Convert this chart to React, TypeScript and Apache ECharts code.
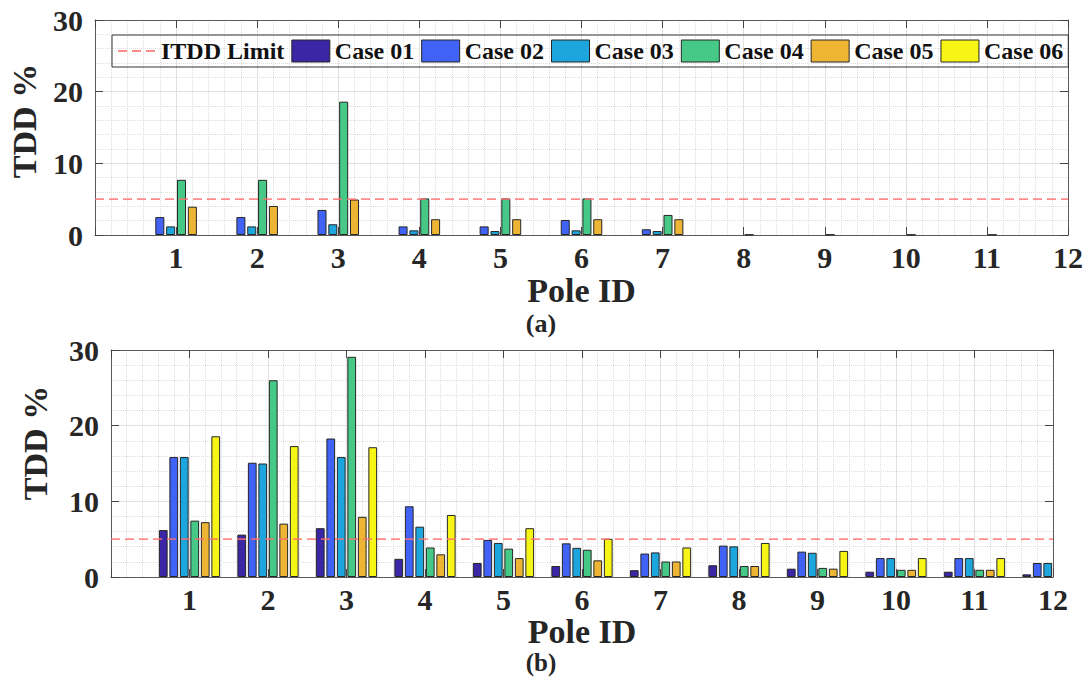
import React, { useEffect, useRef } from 'react';
import * as echarts from 'echarts';

const poles = [1, 2, 3, 4, 5, 6, 7, 8, 9, 10, 11, 12];
const caseNames = ['Case 01', 'Case 02', 'Case 03', 'Case 04', 'Case 05', 'Case 06'];
const caseColors = ['#3b26a6', '#4063f5', '#1ca6dd', '#46c886', '#eeb535', '#f7f516'];
const limitName = 'ITDD Limit';
const itddLimit = 5;
const xTicks = [0, 12];
const yRange = [0, 30];

// (a) — bars of cases 04-06 at pole 12 fall outside the plot and are not visible
const aCase01 = [0, 0, 0, 0, 0, 0, 0, 0, 0, 0, 0, 0];
const aCase02 = [2.5, 2.5, 3.5, 1.2, 1.2, 2.1, 0.8, 0, 0, 0, 0, 0];
const aCase03 = [1.2, 1.2, 1.5, 0.65, 0.55, 0.65, 0.55, 0, 0, 0, 0, 0];
const aCase04 = [7.7, 7.7, 18.6, 5.1, 5.1, 5.1, 2.8, 0.05, 0.05, 0.05, 0.05, null];
const aCase05 = [3.95, 4.05, 4.95, 2.2, 2.2, 2.2, 2.2, 0, 0, 0, 0, null];
const aCase06 = [0, 0, 0, 0, 0, 0, 0, 0, 0, 0, 0, null];

// (b)
const bCase01 = [6.2, 5.6, 6.45, 2.4, 1.85, 1.45, 0.9, 1.55, 1.1, 0.7, 0.7, 0.35];
const bCase02 = [15.85, 15.1, 18.3, 9.35, 4.9, 4.45, 3.1, 4.15, 3.35, 2.5, 2.5, 1.85];
const bCase03 = [15.85, 15.0, 15.85, 6.65, 4.5, 3.85, 3.25, 4.05, 3.2, 2.5, 2.5, 1.85];
const bCase04 = [7.45, 26.0, 29.1, 3.9, 3.75, 3.6, 2.05, 1.45, 1.2, 0.95, 0.95, null];
const bCase05 = [7.25, 7.05, 7.95, 3.0, 2.5, 2.2, 2.05, 1.45, 1.1, 0.95, 0.95, null];
const bCase06 = [18.6, 17.3, 17.15, 8.2, 6.45, 5.05, 3.9, 4.5, 3.45, 2.5, 2.5, null];

const panelA = [aCase01, aCase02, aCase03, aCase04, aCase05, aCase06];
const panelB = [bCase01, bCase02, bCase03, bCase04, bCase05, bCase06];

const FONT = 'Liberation Serif';
const TEXT = '#262626';
const LIMIT_COLOR = 'rgba(255,110,110,0.8)';

function axesFor(g: number, nameGap: number) {
  const xMain = {
    type: 'value', gridIndex: g, min: xTicks[0], max: xTicks[1], interval: 1, position: 'bottom',
    axisLine: { show: true, onZero: false, lineStyle: { color: '#5a5a5a', width: 1 } },
    axisTick: { show: true, inside: true, length: 8, lineStyle: { color: '#444' } },
    axisLabel: {
      show: true, formatter: (v: number) => (v === 0 ? '' : String(v)),
      fontFamily: FONT, fontWeight: 'bold', fontSize: 30, color: TEXT, margin: 7,
    },
    splitLine: { show: true, lineStyle: { color: '#e0e0e0', width: 1 } },
    minorTick: { show: false, splitNumber: 5 },
    minorSplitLine: { show: true, lineStyle: { color: '#dedede', type: 'dotted', width: 1 } },
    name: 'Pole ID', nameLocation: 'middle', nameGap, nameMoveOverlap: false,
    nameTextStyle: { fontFamily: FONT, fontWeight: 'bold', fontSize: 34, color: TEXT, verticalAlign: 'top' },
  };
  const xTop = {
    type: 'value', gridIndex: g, min: xTicks[0], max: xTicks[1], interval: 1, position: 'top',
    axisLine: { show: true, onZero: false, lineStyle: { color: '#5a5a5a', width: 1 } },
    axisTick: { show: true, inside: true, length: 8, lineStyle: { color: '#444' } },
    axisLabel: { show: false }, splitLine: { show: false },
  };
  const yMain = {
    type: 'value', gridIndex: g, min: yRange[0], max: yRange[1], interval: 10, position: 'left',
    axisLine: { show: true, onZero: false, lineStyle: { color: '#5a5a5a', width: 1 } },
    axisTick: { show: true, inside: true, length: 8, lineStyle: { color: '#444' } },
    axisLabel: { show: true, fontFamily: FONT, fontWeight: 'bold', fontSize: 30, color: TEXT, margin: 12 },
    splitLine: { show: true, lineStyle: { color: '#e0e0e0', width: 1 } },
    minorTick: { show: false, splitNumber: 5 },
    minorSplitLine: { show: true, lineStyle: { color: '#dedede', type: 'dotted', width: 1 } },
  };
  const yRight = {
    type: 'value', gridIndex: g, min: yRange[0], max: yRange[1], interval: 10, position: 'right',
    axisLine: { show: true, onZero: false, lineStyle: { color: '#5a5a5a', width: 1 } },
    axisTick: { show: true, inside: true, length: 8, lineStyle: { color: '#444' } },
    axisLabel: { show: false }, splitLine: { show: false },
  };
  return { x: [xMain, xTop], y: [yMain, yRight] };
}

function seriesFor(g: number, panel: (number | null)[][]) {
  const xi = g * 2;
  const yi = g * 2;
  const out: any[] = [];
  panel.forEach((vals, k) => {
    out.push({
      type: 'bar', name: caseNames[k], xAxisIndex: xi, yAxisIndex: yi,
      data: poles.map((p, i) =>
        vals[i] === 0 ? { value: [p, 0], itemStyle: { borderWidth: 0 } } : [p, vals[i]]
      ),
      barGap: '20%', barCategoryGap: '22%',
      itemStyle: { color: caseColors[k], borderColor: '#262626', borderWidth: 1 },
      z: 2,
    });
  });
  out.push({
    type: 'line', name: limitName, xAxisIndex: xi, yAxisIndex: yi,
    data: [[xTicks[0], itddLimit], [xTicks[1], itddLimit]],
    symbol: 'none', silent: true, z: 5,
    lineStyle: { color: LIMIT_COLOR, width: 1.8, type: [9, 5] },
    itemStyle: { color: LIMIT_COLOR },
  });
  return out;
}

export default function App() {
  const ref = useRef<HTMLDivElement>(null);
  useEffect(() => {
    if (!ref.current) return;
    const chart = echarts.init(ref.current, undefined, { renderer: 'svg' });
    const a0 = axesFor(0, 38);
    const a1 = axesFor(1, 37);
    const option: any = {
      animation: false,
      backgroundColor: '#ffffff',
      grid: [
        { left: 95, top: 20, width: 973, height: 215 },
        { left: 111, top: 350, width: 942, height: 227 },
      ],
      xAxis: [...a0.x, ...a1.x],
      yAxis: [...a0.y, ...a1.y],
      legend: {
        left: 112, top: 35, orient: 'horizontal',
        itemWidth: 38, itemHeight: 22, itemGap: 7, padding: [4, 5],
        borderColor: '#333', borderWidth: 1, backgroundColor: 'transparent',
        textStyle: { fontFamily: FONT, fontWeight: 'bold', fontSize: 24, color: '#111' },
        data: [
          { name: limitName, itemStyle: { color: 'rgba(0,0,0,0)', borderColor: 'rgba(0,0,0,0)', borderWidth: 0 } },
          ...caseNames.map((n) => ({ name: n, icon: 'rect', itemStyle: { borderColor: '#262626', borderWidth: 1 } })),
        ],
        selectedMode: false,
      },
      graphic: [
        { type: 'text', x: 24, y: 121, rotation: Math.PI / 2, style: { text: 'TDD %', font: `bold 34px ${FONT}`, fill: TEXT, align: 'center', verticalAlign: 'middle' } },
        { type: 'text', x: 35, y: 443, rotation: Math.PI / 2, style: { text: 'TDD %', font: `bold 34px ${FONT}`, fill: TEXT, align: 'center', verticalAlign: 'middle' } },
        { type: 'text', x: 541, y: 323, style: { text: '(a)', font: `bold 26px ${FONT}`, fill: TEXT, align: 'center', verticalAlign: 'middle' } },
        { type: 'text', x: 541, y: 662, style: { text: '(b)', font: `bold 25px ${FONT}`, fill: TEXT, align: 'center', verticalAlign: 'middle' } },
      ],
      series: [...seriesFor(0, panelA), ...seriesFor(1, panelB)],
    };
    chart.setOption(option);
    return () => chart.dispose();
  }, []);
  return <div ref={ref} style={{ position: 'absolute', left: 0, top: 0, width: 1091, height: 677 }} />;
}
